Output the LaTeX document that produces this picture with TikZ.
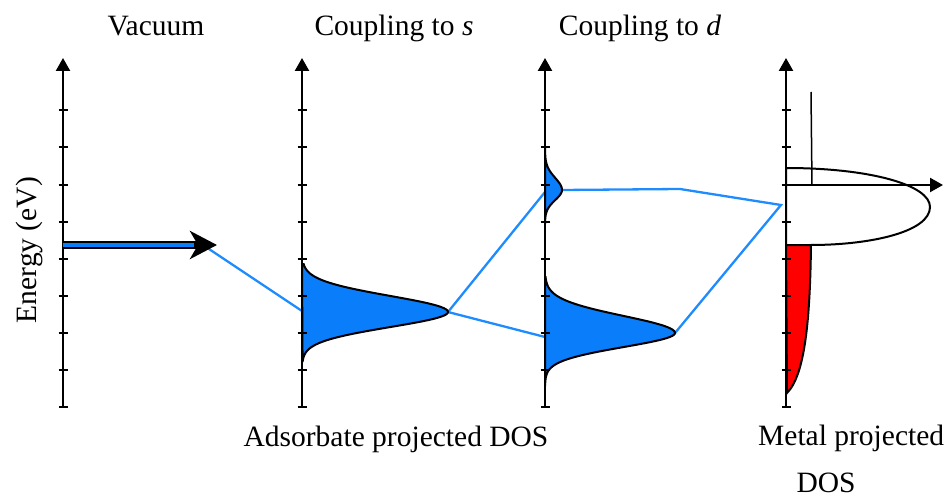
\documentclass[tikz,border=0pt]{standalone}
\usepackage{fontspec}
\setmainfont{Liberation Serif}
\usetikzlibrary{arrows.meta}
\definecolor{dosblue}{RGB}{10,125,250}
\definecolor{linkblue}{RGB}{30,140,255}

\begin{document}
\begin{tikzpicture}[x=1pt, y=-1pt, font=\fontsize{29.5}{34}\selectfont,
  axis/.style={line width=2.4pt, -{Triangle[length=13pt,width=14pt]}},
  dos/.style={draw, line width=2pt, fill=dosblue},
  link/.style={linkblue, line width=2.3pt},
  lbl/.style={inner sep=0pt, anchor=base},
  declare function={sg(\e,\c,\a,\b)=(\e-\c)/(\e<\c?\a:\b);
    bump(\e,\c,\a,\b)=exp(-0.5*sg(\e,\c,\a,\b)*sg(\e,\c,\a,\b));}]
\useasboundingbox (0,0) rectangle (945,497);
% connection points
\coordinate (vtip) at (206,247);
\coordinate (sin) at (302,311);
\coordinate (speak) at (448,312);
\coordinate (dup) at (545,192);
\coordinate (dlow) at (545,337);
\coordinate (uppeak) at (562,190);
\coordinate (bend) at (680,189);
\coordinate (lowpeak) at (675,333);
\coordinate (met) at (781,205);
\draw[link] (vtip) -- (sin);
\draw[link] (dup) -- (speak) -- (dlow);
\draw[link] (uppeak) -- (bend) -- (met) -- (lowpeak);
% adsorbate DOS
\draw[dos] (302,264) -- plot[domain=264:362, samples=90] ({302+146*bump(\x,312,16,15)}, \x) -- cycle;
\draw[dos] (545,148) -- plot[domain=148:224, samples=60] ({545+17*bump(\x,190,12,10)}, \x) -- cycle;
\draw[dos] (545,277) -- plot[domain=277:386, samples=90] ({545+130*bump(\x,333,17,14)}, \x) -- cycle;
% metal DOS
\draw[line width=2pt, fill=white] (786,168) .. controls (870,168) and (930,185) .. (930,207)
  .. controls (930,232) and (870,245) .. (811,245) -- (786,245) -- cycle;
\draw[line width=2pt, fill=red] (786,245) -- (811,245) .. controls (810,320) and (805,375) .. (787,393) -- cycle;
\draw[line width=1.5pt] (811,92) -- (812,185);
% axes
\foreach \x in {63,302,545,786} {
  \draw[axis] (\x,407) -- (\x,58);
  \foreach \t in {110,147,185,222,259,296,333,370,407}
    \draw[line width=2.2pt] (\x-4.5,\t) -- (\x+4.5,\t);
}
\draw[axis] (786,185) -- (943,185);
% vacuum level
\draw[line width=8.5pt, -{Stealth[length=27pt,width=28pt,inset=8pt]}] (63,245) -- (217,245);
\draw[dosblue, line width=4pt] (63,245) -- (194,245);
% labels
\node[lbl] (vac) at (156,36) {Vacuum};
\node[lbl] (cs) at (394,36) {Coupling to \textit{s}};
\node[lbl] (cd) at (640,36) {Coupling to \textit{d}};
\node[lbl, rotate=90] (en) at (36,250) {Energy (eV)};
\node[lbl] (ads) at (396,446) {Adsorbate projected DOS};
\node[lbl, anchor=base west] (mp) at (758,445) {Metal projected};
\node[lbl] (mdos) at (826,492) {DOS};
\end{tikzpicture}
\end{document}
